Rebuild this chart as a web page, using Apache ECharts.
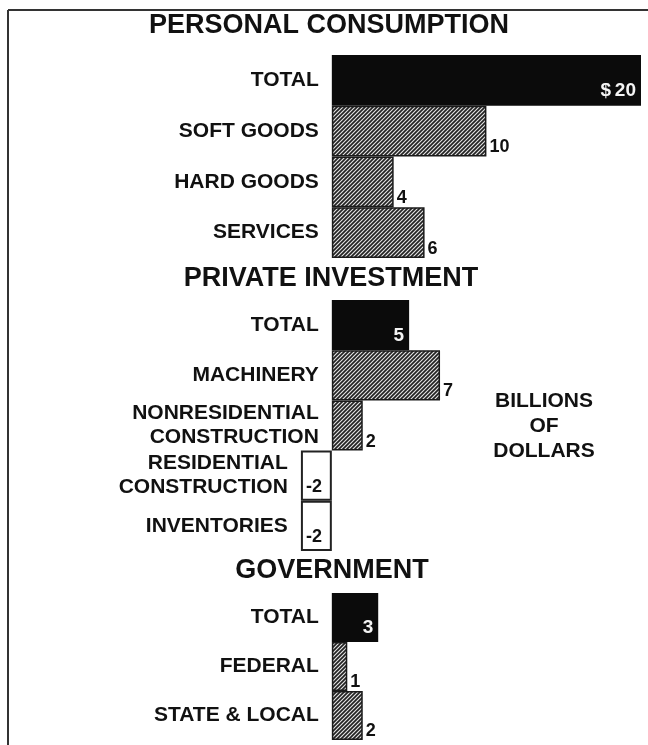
<!DOCTYPE html>
<html>
<head>
<meta charset="utf-8">
<script src="https://cdn.jsdelivr.net/npm/echarts@6/dist/echarts.min.js"></script>
<style>
  html, body { margin: 0; padding: 0; background: #fff; }
  #chart { width: 648px; height: 745px; }
</style>
</head>
<body>
<div id="chart"></div>
<script>
// ---- data (billions of dollars) ----
const consumptionCats = ['TOTAL', 'SOFT GOODS', 'HARD GOODS', 'SERVICES'];
const consumptionVals = [20, 10, 4, 6];

const investmentCats = ['TOTAL', 'MACHINERY', 'NONRESIDENTIAL\nCONSTRUCTION', 'RESIDENTIAL\nCONSTRUCTION', 'INVENTORIES'];
const investmentVals = [5, 7, 2, -2, -2];

const governmentCats = ['TOTAL', 'FEDERAL', 'STATE & LOCAL'];
const governmentVals = [3, 1, 2];

const sectionTitles = ['PERSONAL CONSUMPTION', 'PRIVATE INVESTMENT', 'GOVERNMENT'];
const unitNote = ['BILLIONS', 'OF', 'DOLLARS'];

const xMin = -4, xMax = 20;

// ---- styling ----
const FONT = '"Liberation Sans", Arial, sans-serif';
const INK = '#111';

// diagonal hatch tile for the component bars
function hatchTile() {
  const s = 4;
  const c = document.createElement('canvas');
  c.width = s; c.height = s;
  const g = c.getContext('2d');
  g.fillStyle = '#e4e4e4';
  g.fillRect(0, 0, s, s);
  g.strokeStyle = '#222';
  g.lineWidth = 1.7;
  g.beginPath();
  g.moveTo(-1, s + 1); g.lineTo(s + 1, -1);
  g.moveTo(-1, 1); g.lineTo(1, -1);
  g.moveTo(s - 1, s + 1); g.lineTo(s + 1, s - 1);
  g.stroke();
  return c;
}
const hatch = { image: hatchTile(), repeat: 'repeat' };

const sections = [
  { cats: consumptionCats, vals: consumptionVals, top: 55, height: 203, prefix: '$\u2009' },
  { cats: investmentCats, vals: investmentVals, top: 300, height: 251, prefix: '' },
  { cats: governmentCats, vals: governmentVals, top: 593, height: 147, prefix: '' }
];

const gridLeft = 270, gridWidth = 371;
const unitPx = gridWidth / (xMax - xMin);
// category labels sit just left of the zero line, not the grid edge
const labelGap = 13;
const labelMargin = labelGap - (0 - xMin) * unitPx;

function barItem(v, i, prefix) {
  if (i === 0) {
    return {
      value: v,
      itemStyle: { color: '#0b0b0b', borderWidth: 0 },
      label: {
        show: true, position: 'insideBottomRight', distance: 5,
        color: '#f4f4f4', fontSize: 19, fontWeight: 'bold', fontFamily: FONT,
        formatter: () => prefix + v
      }
    };
  }
  if (v < 0) {
    return {
      value: v,
      itemStyle: { color: '#fff', borderColor: '#222', borderWidth: 2 },
      label: {
        show: true, position: 'insideBottomLeft', distance: 5,
        color: INK, fontSize: 18, fontWeight: 'bold', fontFamily: FONT
      }
    };
  }
  return {
    value: v,
    itemStyle: { color: hatch, borderColor: '#1a1a1a', borderWidth: 1.5 },
    label: {
      show: true, position: ['100%', '100%'], align: 'left', verticalAlign: 'bottom',
      offset: [3, 0],
      color: INK, fontSize: 18, fontWeight: 'bold', fontFamily: FONT
    }
  };
}

const grids = [], xAxes = [], yAxes = [], series = [];
sections.forEach((s, k) => {
  grids.push({ left: gridLeft, width: gridWidth, top: s.top, height: s.height });
  xAxes.push({
    type: 'value', gridIndex: k, min: xMin, max: xMax, show: false
  });
  yAxes.push({
    type: 'category', gridIndex: k, inverse: true,
    data: s.cats.map((c, i) => {
      const v = s.vals[i];
      return v < 0
        ? { value: c, textStyle: { padding: [0, Math.round(-v * unitPx), 0, 0] } }
        : c;
    }),
    axisLine: { show: false },
    axisTick: { show: false },
    axisLabel: {
      margin: labelMargin, color: INK, fontSize: 21, fontWeight: 'bold',
      fontFamily: FONT, lineHeight: 24, align: 'right'
    }
  });
  series.push({
    type: 'bar', xAxisIndex: k, yAxisIndex: k,
    barWidth: '100%', barCategoryGap: 0,
    data: s.vals.map((v, i) => barItem(v, i, s.prefix)),
    animation: false
  });
});

const titleFont = 'bold 27px ' + FONT;
const graphic = [
  // frame
  { type: 'line', shape: { x1: 8, y1: 10, x2: 648, y2: 10 }, style: { stroke: '#333', lineWidth: 2 } },
  { type: 'line', shape: { x1: 8, y1: 10, x2: 8, y2: 745 }, style: { stroke: '#333', lineWidth: 2 } },
  // section headings
  { type: 'text', x: 329, y: 12, style: { text: sectionTitles[0], font: titleFont, fill: INK, textAlign: 'center', textVerticalAlign: 'top' } },
  { type: 'text', x: 331, y: 265, style: { text: sectionTitles[1], font: titleFont, fill: INK, textAlign: 'center', textVerticalAlign: 'top' } },
  { type: 'text', x: 332, y: 557, style: { text: sectionTitles[2], font: titleFont, fill: INK, textAlign: 'center', textVerticalAlign: 'top' } },
  // unit note
  { type: 'text', x: 544, y: 389, style: { text: unitNote.join('\n'), font: 'bold 21px ' + FONT, lineHeight: 25, fill: INK, textAlign: 'center', textVerticalAlign: 'top' } }
];

const chart = echarts.init(document.getElementById('chart'), null, { renderer: 'canvas' });
chart.setOption({
  animation: false,
  backgroundColor: '#fff',
  grid: grids,
  xAxis: xAxes,
  yAxis: yAxes,
  series: series,
  graphic: graphic
});
</script>
</body>
</html>
